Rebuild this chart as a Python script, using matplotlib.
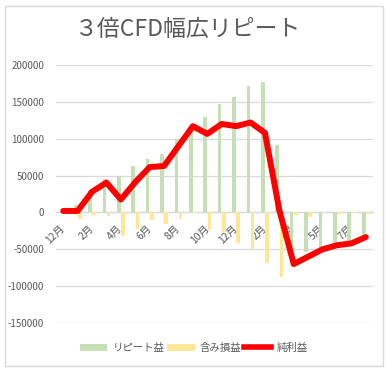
import matplotlib
matplotlib.use("Agg")
import matplotlib.pyplot as plt
from matplotlib.patches import Patch, Rectangle
from matplotlib.lines import Line2D
import numpy as np

plt.rcParams['font.family'] = ['Noto Sans CJK JP', 'DejaVu Sans']

title = "３倍CFD幅広リピート"
categories = ['12月', '1月', '2月', '3月', '4月', '5月', '6月', '7月', '8月', '9月', '10月',
              '11月', '12月', '1月', '2月', '3月', '4月', '4月', '5月', '6月', '7月', '8月']
repeat_profit = [0, 10000, 31000, 45000, 50000, 63000, 72000, 79000, 100000, 118000, 130000,
                 147000, 156000, 171000, 177000, 91000, -68000, -54000, -49000, -44000, -40000, -31000]
unrealized = [0, -9000, -3000, -4500, -32000, -22000, -10500, -16000, -9000, -1000, -24000,
              -27000, -41000, -49000, -69000, -87000, -3000, -6000, -1000, -1500, -1000, -1500]
net_profit = [2000, 2000, 28000, 40500, 17500, 41000, 61500, 63000, 90000, 117000, 106500,
              120000, 117000, 122000, 108000, 3000, -70000, -60000, -50000, -44500, -42000, -33500]
series_names = ['リピート益', '含み損益', '純利益']
y_ticks = [-150000, -100000, -50000, 0, 50000, 100000, 150000, 200000]

W, H = 392, 371
fig = plt.figure(figsize=(W / 100, H / 100), dpi=100)
ax = fig.add_axes([56 / W, 1 - 323 / H, (373 - 56) / W, (323 - 65) / H])

green = '#c5e0b4'
yellow = '#ffe699'
red = '#ff0000'
grey_txt = '#595959'
grid_c = '#d9d9d9'

x = np.arange(len(categories))
bw = 0.25
ax.bar(x - bw / 2 - 0.02, repeat_profit, width=bw, color=green, zorder=2)
ax.bar(x + bw / 2 + 0.02, unrealized, width=bw, color=yellow, zorder=2)
ax.plot(x, net_profit, color=red, linewidth=4.3, solid_joinstyle='round',
        solid_capstyle='round', zorder=4)

ax.set_xlim(-0.5, len(categories) - 0.5)
ax.set_ylim(-150000, 200000)
ax.set_yticks(y_ticks)
ax.set_yticklabels([str(v) for v in y_ticks])
ax.yaxis.grid(True, color=grid_c, linewidth=0.9, zorder=0)
ax.set_axisbelow(True)

for s in ['top', 'right', 'left']:
    ax.spines[s].set_visible(False)
ax.spines['bottom'].set_position(('data', 0))
ax.spines['bottom'].set_color(grid_c)
ax.spines['bottom'].set_linewidth(0.9)
ax.spines['bottom'].set_zorder(1)

ax.set_xticks(x[::2])
ax.set_xticklabels(categories[::2], rotation=45, ha='right', va='center',
                   rotation_mode='anchor')
ax.tick_params(axis='x', length=0, pad=10, labelsize=7.5, labelcolor=grey_txt)
ax.tick_params(axis='y', length=0, pad=8.5, labelsize=7, labelcolor=grey_txt)

fig.text(188 / W, 1 - 29 / H, title, ha='center', va='center', fontsize=16.5,
         color=grey_txt)

handles = [Patch(facecolor=green, edgecolor='none'),
           Patch(facecolor=yellow, edgecolor='none'),
           Line2D([0], [0], color=red, linewidth=4.0)]
leg = fig.legend(handles, series_names, loc='center', bbox_to_anchor=(194 / W, 1 - 348 / H),
                 ncol=3, frameon=False, fontsize=7.5, handlelength=2.6, handleheight=0.7,
                 handletextpad=0.5, columnspacing=0.3, labelcolor=grey_txt)

fig.patches.append(Rectangle((5 / W, 1 - 366 / H), (383 - 5) / W, (366 - 6) / H,
                             transform=fig.transFigure, fill=False, edgecolor=grid_c,
                             linewidth=1.0))

fig.savefig('out.png', dpi=100, facecolor='white')
